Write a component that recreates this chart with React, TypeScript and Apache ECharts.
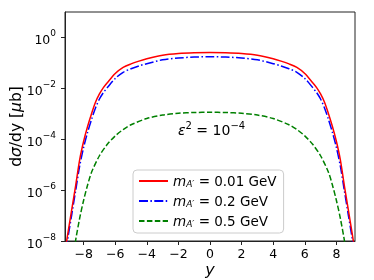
import React, { useEffect, useRef } from "react";
import * as echarts from "echarts";

// rapidity grid points (shared by the two light masses)
const rapidityA = [-9.1, -9.0, -8.75, -8.5, -8.25, -8.0, -7.75, -7.5, -7.25, -7.0, -6.75, -6.5, -6.0, -5.5, -5.0, -4.5, -4.0, -3.0, -2.0, -1.0, 0, 1.0, 2.0, 3.0, 4.0, 4.5, 5.0, 5.5, 6.0, 6.5, 6.75, 7.0, 7.25, 7.5, 7.75, 8.0, 8.25, 8.5, 8.75, 9.0, 9.1];
const redVals = [7.9e-9, 2.0e-8, 1.78e-7, 1.58e-6, 1.58e-5, 8.3e-5, 3.16e-4, 1.0e-3, 2.82e-3, 6.0e-3, 1.07e-2, 1.66e-2, 3.8e-2, 6.61e-2, 9.12e-2, 0.117, 0.145, 0.2, 0.234, 0.251, 0.257, 0.251, 0.234, 0.2, 0.145, 0.117, 9.12e-2, 6.61e-2, 3.8e-2, 1.66e-2, 1.07e-2, 6.0e-3, 2.82e-3, 1.0e-3, 3.16e-4, 8.3e-5, 1.58e-5, 1.58e-6, 1.78e-7, 2.0e-8, 7.9e-9];
const blueVals = [4.47e-9, 1.26e-8, 1.12e-7, 1.0e-6, 8.9e-6, 4.8e-5, 1.86e-4, 6.0e-4, 1.7e-3, 3.8e-3, 6.8e-3, 1.07e-2, 2.45e-2, 4.27e-2, 5.89e-2, 7.59e-2, 9.33e-2, 0.132, 0.155, 0.17, 0.174, 0.17, 0.155, 0.132, 9.33e-2, 7.59e-2, 5.89e-2, 4.27e-2, 2.45e-2, 1.07e-2, 6.8e-3, 3.8e-3, 1.7e-3, 6.0e-4, 1.86e-4, 4.8e-5, 8.9e-6, 1.0e-6, 1.12e-7, 1.26e-8, 4.47e-9];
// rapidity grid points for the heavy mass
const rapidityB = [-8.75, -8.5, -8.25, -8.0, -7.75, -7.5, -7.0, -6.5, -6.0, -5.5, -5.0, -4.0, -3.0, -2.0, -1.0, 0, 1.0, 2.0, 3.0, 4.0, 5.0, 5.5, 6.0, 6.5, 7.0, 7.5, 7.75, 8.0, 8.25, 8.5, 8.75];
const greenVals = [1.0e-9, 1.12e-8, 7.9e-8, 4.0e-7, 1.58e-6, 5.0e-6, 2.24e-5, 6.3e-5, 1.35e-4, 2.4e-4, 3.7e-4, 6.5e-4, 8.9e-4, 1.05e-3, 1.12e-3, 1.15e-3, 1.12e-3, 1.05e-3, 8.9e-4, 6.5e-4, 3.7e-4, 2.4e-4, 1.35e-4, 6.3e-5, 2.24e-5, 5.0e-6, 1.58e-6, 4.0e-7, 7.9e-8, 1.12e-8, 1.0e-9];

const massLabels = ["0.01", "0.2", "0.5"];
const xTicks = [-8, -6, -4, -2, 0, 2, 4, 6, 8];
const yTicks = [1e-8, 1e-6, 1e-4, 1e-2, 1];
const yTickExp = ["−8", "−6", "−4", "−2", "0"];

const FONT = "DejaVu Sans";

export default function App() {
  const ref = useRef<HTMLDivElement>(null);
  useEffect(() => {
    if (!ref.current) return;
    const chart = echarts.init(ref.current, undefined, { renderer: "svg" });
    const pair = (xs: number[], ys: number[]) => xs.map((x, i) => [x, ys[i]]);
    const colors = ["#ff0000", "#0000ff", "#008000"];
    const dashes: any[] = ["solid", [9, 2.4, 1.5, 2.4], [5.5, 2.4]];
    const datas = [pair(rapidityA, redVals), pair(rapidityA, blueVals), pair(rapidityB, greenVals)];
    chart.setOption({
      animation: false,
      textStyle: { fontFamily: FONT },
      grid: {
        left: 65, right: 19, top: 12, bottom: 39,
        outerBoundsMode: "none",
        containLabel: false,
        show: true, borderColor: "#222", borderWidth: 1, backgroundColor: "transparent",
      },
      xAxis: {
        type: "value",
        min: -9.18,
        max: 9.18,
        name: "y",
        nameLocation: "middle",
        nameGap: 20,
        nameMoveOverlap: false,
        nameTextStyle: { fontFamily: FONT, fontSize: 16, fontStyle: "italic", color: "#000", verticalAlign: "top", lineHeight: 16 },
        axisLine: { show: true, onZero: false, lineStyle: { color: "#222", width: 1 } },
        axisTick: { show: true, length: 4, lineStyle: { color: "#222" }, customValues: xTicks },
        axisLabel: {
          customValues: xTicks,
          margin: 6,
          color: "#000",
          fontFamily: FONT,
          fontSize: 12.5,
          lineHeight: 13,
          formatter: (v: number) => (v < 0 ? "−" + Math.abs(v) : String(v)),
        },
        splitLine: { show: false },
      },
      yAxis: {
        type: "log",
        logBase: 10,
        min: 1e-8,
        max: 10,
        name: "d{i|σ}/dy [{i|μ}b]",
        nameLocation: "middle",
        nameGap: 41,
        nameRotate: 90,
        nameMoveOverlap: false,
        nameTextStyle: {
          fontFamily: FONT,
          fontSize: 15.5,
          color: "#000",
          rich: { i: { fontFamily: FONT, fontSize: 15.5, fontStyle: "italic", color: "#000" } },
        },
        axisLine: { show: true, onZero: false, lineStyle: { color: "#222", width: 1 } },
        axisTick: { show: true, length: 4, lineStyle: { color: "#222" }, customValues: yTicks },
        axisLabel: {
          customValues: yTicks,
          margin: 9,
          color: "#000",
          fontFamily: FONT,
          formatter: (v: number) => {
            const idx = yTicks.findIndex((t) => Math.abs(Math.log10(t) - Math.log10(v)) < 0.01);
            if (idx < 0) return "";
            return "{b|10}{s|" + yTickExp[idx] + "}";
          },
          rich: {
            b: { fontFamily: FONT, fontSize: 12.5, color: "#000", lineHeight: 18, verticalAlign: "bottom" },
            s: { fontFamily: FONT, fontSize: 9, color: "#000", lineHeight: 18, verticalAlign: "top" },
          },
        },
        splitLine: { show: false },
        minorTick: { show: false },
      },
      legend: {
        orient: "vertical",
        left: 133,
        top: 170,
        padding: [4, 7, 5, 5],
        itemWidth: 29,
        itemHeight: 14,
        itemGap: 6,
        backgroundColor: "rgba(255,255,255,0.85)",
        borderColor: "#cccccc",
        borderWidth: 1,
        borderRadius: 4,
        data: massLabels,
        itemStyle: { opacity: 0 },
        formatter: (name: string) => "{m|m}{sub|A′}{t| = " + name + " GeV}",
        textStyle: {
          fontFamily: FONT,
          color: "#000",
          rich: {
            m: { fontFamily: FONT, fontSize: 13.5, fontStyle: "italic", color: "#000", lineHeight: 14 },
            sub: { fontFamily: FONT, fontSize: 9, fontStyle: "italic", color: "#000", verticalAlign: "bottom", lineHeight: 14 },
            t: { fontFamily: FONT, fontSize: 13.5, color: "#000", lineHeight: 14 },
          },
        },
      },
      graphic: [
        {
          type: "text",
          left: 178,
          top: 120,
          style: {
            text: "{i|ε}{s|2}{n| = 10}{s|−4}",
            rich: {
              i: { fontFamily: FONT, fontSize: 14, fontStyle: "italic", fill: "#000", lineHeight: 17, verticalAlign: "bottom" },
              s: { fontFamily: FONT, fontSize: 10, fill: "#000", lineHeight: 17, verticalAlign: "top" },
              n: { fontFamily: FONT, fontSize: 14, fill: "#000", lineHeight: 17, verticalAlign: "bottom" },
            },
          },
        },
      ],
      series: massLabels.map((m, i) => ({
        name: m,
        type: "line",
        data: datas[i],
        showSymbol: false,
        symbol: "none",
        smooth: 0.3,
        clip: true,
        lineStyle: { color: colors[i], width: 1.5, type: dashes[i] },
        itemStyle: { color: colors[i] },
        z: 3 - i,
      })),
    });
    return () => chart.dispose();
  }, []);
  return <div ref={ref} style={{ position: "fixed", left: 0, top: 0, width: 374, height: 280 }} />;
}
